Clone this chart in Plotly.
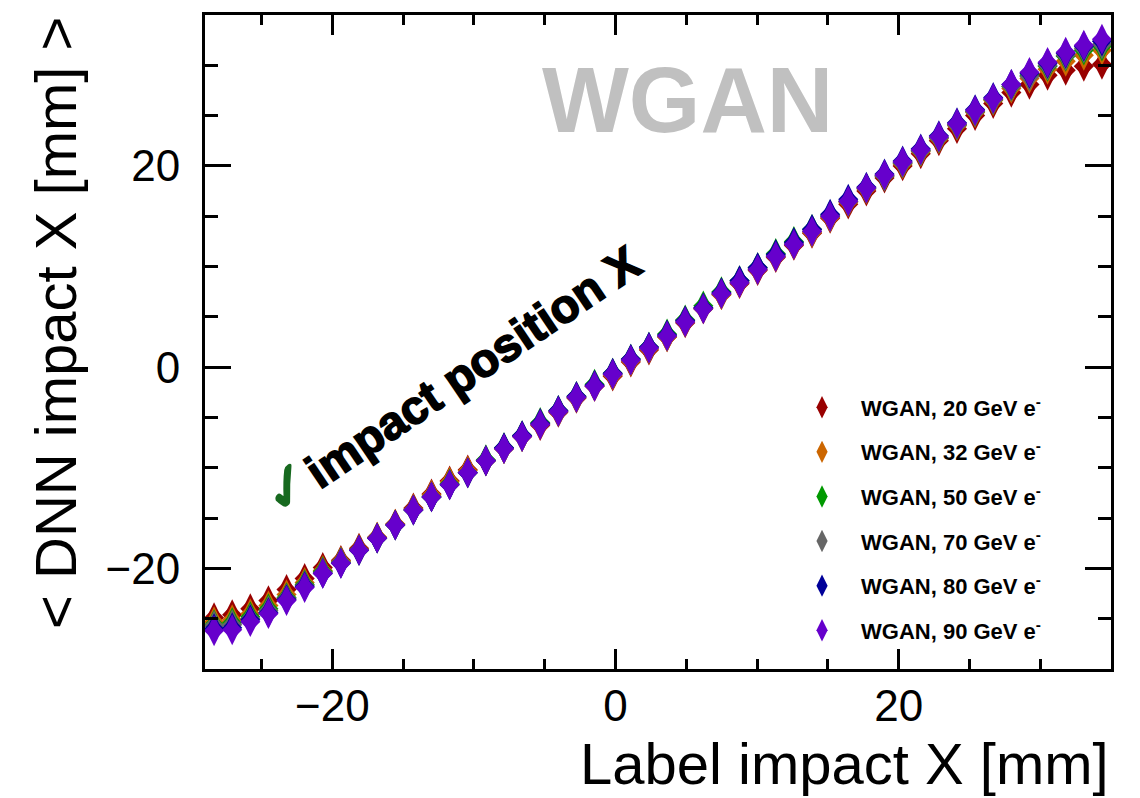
import plotly.graph_objects as go

# ---------------- data ----------------
x_label = [-28.36, -27.08, -25.80, -24.52, -23.24, -21.96, -20.68, -19.40, -18.12, -16.84,
           -15.56, -14.28, -13.00, -11.72, -10.44, -9.16, -7.88, -6.60, -5.32, -4.04,
           -2.76, -1.48, -0.20, 1.08, 2.36, 3.64, 4.92, 6.20, 7.48, 8.76,
           10.04, 11.32, 12.60, 13.88, 15.16, 16.44, 17.72, 19.00, 20.28, 21.56,
           22.84, 24.12, 25.40, 26.68, 27.96, 29.24, 30.52, 31.80, 33.08, 34.36]

y_20 = [-24.9, -24.6, -24.0, -23.2, -22.1, -21.0, -19.9, -19.2, -18.0, -16.9,
        -15.6, -14.0, -12.6, -11.3, -10.2, -9.3, -8.1, -6.9, -5.8, -4.5,
        -3.1, -1.9, -0.9, 0.5, 1.7, 3.0, 4.4, 5.8, 7.2, 8.3,
        9.6, 10.9, 12.1, 13.3, 14.8, 16.2, 17.5, 18.8, 20.0, 21.2,
        22.5, 23.7, 25.0, 26.2, 27.3, 28.1, 29.0, 29.5, 29.9, 30.1]
y_32 = [-25.3, -25.1, -24.5, -23.7, -22.6, -21.4, -20.2, -19.3, -18.1, -16.9,
        -15.6, -14.1, -12.7, -11.4, -10.3, -9.3, -8.1, -6.9, -5.7, -4.4,
        -3.0, -1.9, -0.8, 0.6, 1.8, 3.0, 4.5, 5.8, 7.2, 8.4,
        9.7, 11.0, 12.2, 13.4, 14.9, 16.4, 17.7, 19.0, 20.2, 21.4,
        22.7, 24.0, 25.3, 26.5, 27.7, 28.7, 29.6, 30.4, 31.0, 31.5]
y_50 = [-25.6, -25.4, -24.8, -24.0, -22.9, -21.6, -20.3, -19.4, -18.2, -17.0,
        -15.7, -14.2, -12.9, -11.6, -10.5, -9.2, -8.0, -6.8, -5.5, -4.3,
        -2.9, -1.7, -0.6, 0.8, 2.0, 3.3, 4.7, 6.1, 7.5, 8.6,
        9.9, 11.3, 12.5, 13.7, 15.1, 16.5, 17.8, 19.0, 20.3, 21.5,
        22.8, 24.1, 25.4, 26.6, 27.9, 29.0, 29.9, 30.9, 31.5, 31.9]
y_70 = [-25.7, -25.6, -25.0, -24.2, -23.0, -21.7, -20.4, -19.4, -18.2, -17.0,
        -15.7, -14.2, -12.9, -11.7, -10.5, -9.3, -8.1, -6.9, -5.6, -4.4,
        -3.0, -1.8, -0.7, 0.7, 1.9, 3.1, 4.6, 5.9, 7.3, 8.5,
        9.8, 11.1, 12.3, 13.5, 15.0, 16.5, 17.8, 19.0, 20.3, 21.5,
        22.8, 24.1, 25.4, 26.6, 27.9, 28.9, 30.0, 31.0, 31.7, 32.1]
y_80 = [-26.0, -25.9, -25.1, -24.4, -23.1, -21.8, -20.5, -19.5, -18.2, -17.0,
        -15.7, -14.2, -12.9, -11.7, -10.5, -9.3, -8.0, -6.8, -5.6, -4.3,
        -2.9, -1.8, -0.6, 0.8, 2.0, 3.2, 4.6, 5.9, 7.4, 8.6,
        9.9, 11.2, 12.4, 13.7, 15.2, 16.7, 17.9, 19.2, 20.5, 21.7,
        23.0, 24.3, 25.6, 26.8, 28.1, 29.2, 30.2, 31.2, 31.9, 32.4]
y_90 = [-26.2, -26.1, -25.3, -24.5, -23.2, -21.9, -20.5, -19.5, -18.2, -17.0,
        -15.7, -14.2, -12.9, -11.7, -10.5, -9.3, -8.1, -6.9, -5.7, -4.4,
        -3.0, -1.9, -0.7, 0.7, 1.9, 3.1, 4.5, 5.8, 7.3, 8.4,
        9.7, 11.0, 12.2, 13.5, 15.0, 16.5, 17.8, 19.1, 20.4, 21.6,
        22.9, 24.2, 25.5, 26.7, 28.1, 29.3, 30.3, 31.3, 32.0, 32.6]

series_names = ["WGAN, 20 GeV e<sup>-</sup>", "WGAN, 32 GeV e<sup>-</sup>",
                "WGAN, 50 GeV e<sup>-</sup>", "WGAN, 70 GeV e<sup>-</sup>",
                "WGAN, 80 GeV e<sup>-</sup>", "WGAN, 90 GeV e<sup>-</sup>"]
series_values = [y_20, y_32, y_50, y_70, y_80, y_90]
series_colors = ["#990000", "#cc6600", "#009900", "#666666", "#000099", "#6600cc"]

x_tick_values = [-20, 0, 20]
y_tick_values = [-20, 0, 20]

# ---------------- figure ----------------
FONT = "Liberation Sans, Arial, Helvetica, sans-serif"
fig = go.Figure()

for i, (name, yv, col) in enumerate(zip(series_names, series_values, series_colors)):
    fig.add_trace(go.Scatter(
        x=x_label, y=yv, mode="markers", name=name,
        legendgroup=f"g{i}",
        marker=dict(symbol="diamond-tall", size=22, color=col, line=dict(width=0)),
    ))
    fig.add_trace(go.Scatter(
        x=x_label, y=yv, mode="markers", name=name,
        legendgroup=f"g{i}", showlegend=False, hoverinfo="skip",
        marker=dict(symbol="diamond", size=15.5, color=col, line=dict(width=0)),
    ))

axis_common = dict(
    showline=True, linewidth=3, linecolor="black", mirror="allticks",
    ticks="inside", tickwidth=3, tickcolor="black",
    showgrid=False, zeroline=False,
    tickfont=dict(family=FONT, size=44, color="black"),
)

fig.update_xaxes(
    range=[-29, 35], tickmode="array", tickvals=x_tick_values, ticklen=20,
    ticklabelstandoff=-4,
    minor=dict(ticks="inside", dtick=5, tick0=0, ticklen=10, tickwidth=3, tickcolor="black", showgrid=False),
    **axis_common,
)
fig.update_yaxes(
    range=[-30, 35], tickmode="array", tickvals=y_tick_values, ticklen=26,
    ticklabelstandoff=13,
    minor=dict(ticks="inside", dtick=5, tick0=0, ticklen=13, tickwidth=3, tickcolor="black", showgrid=False),
    **axis_common,
)

fig.update_layout(
    width=1140, height=798,
    margin=dict(l=205, r=29, t=13, b=129, pad=0),
    paper_bgcolor="white", plot_bgcolor="white",
    font=dict(family=FONT, color="black"),
    showlegend=True,
    legend=dict(
        x=0.638, y=0.432, xanchor="left", yanchor="top",
        bgcolor="rgba(0,0,0,0)", borderwidth=0,
        font=dict(family=FONT, size=22, color="black", weight="bold"),
        itemwidth=68, tracegroupgap=13, traceorder="grouped",
    ),
    annotations=[
        dict(text="Label impact X [mm]", xref="paper", yref="paper", x=1.0, y=-0.144,
             xanchor="right", yanchor="middle", showarrow=False,
             font=dict(family=FONT, size=58, color="black")),
        dict(text="&lt; DNN impact X [mm] &gt;", xref="paper", yref="paper", x=-0.1656, y=1.0,
             xanchor="center", yanchor="top", textangle=-90, showarrow=False,
             font=dict(family=FONT, size=58, color="black")),
        dict(text="WGAN", xref="x", yref="y", x=5.07, y=26.6, xanchor="center", yanchor="middle",
             showarrow=False, font=dict(family=FONT, size=92, color="#c0c0c0", weight="bold")),
        dict(text='<span style="color:#17691f;font-size:60px">✓</span>'
                  '<span style="stroke:black;stroke-width:1.6px">impact position X</span>',
             xref="x", yref="y",
             x=-11.7, y=-1.0, xanchor="center", yanchor="middle", textangle=-34,
             showarrow=False,
             font=dict(family=FONT, size=47, color="black", weight="bold")),
    ],
)

fig.write_html("out.html")
